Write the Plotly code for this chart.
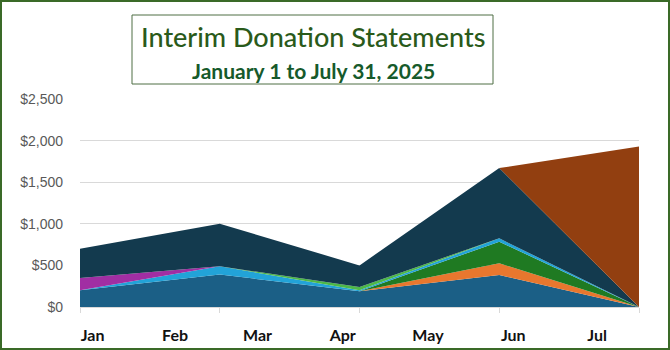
import plotly.graph_objects as go

# ---- data ----
statement_dates = ["2025-01-12", "2025-03-03", "2025-04-22", "2025-06-11", "2025-07-31"]
series_names = ["General", "Building", "Missions", "Youth", "Benevolence", "Music", "Tithes", "Special"]
general     = [200, 390, 190, 385, 0]
building    = [0, 0, 0, 140, 0]
missions    = [0, 0, 0, 260, 0]
youth       = [0, 100, 10, 40, 0]
benevolence = [150, 0, 0, 0, 0]
music       = [0, 0, 40, 0, 0]
tithes      = [350, 510, 260, 845, 0]
special     = [0, 0, 0, 0, 1930]
y_ticks = [0, 500, 1000, 1500, 2000, 2500]
y_tick_labels = ["$0", "$500", "$1,000", "$1,500", "$2,000", "$2,500"]
title_text = "Interim Donation Statements"
subtitle_text = "January 1 to July 31, 2025"

colors = ["#1b5f86", "#e8772e", "#1f7a22", "#22a3d8", "#a12ea3", "#4db848", "#133a4e", "#923f10"]
all_series = [general, building, missions, youth, benevolence, music, tithes, special]

W, H = 670, 350
ML, MR, MT, MB = 80, 31, 99, 43
PW, PH = W - ML - MR, H - MT - MB

def px_x(x):
    return (x - ML) / PW

def px_y(y):
    return 1 - (y - MT) / PH

fig = go.Figure()
for name, vals, col in zip(series_names, all_series, colors):
    fig.add_trace(go.Scatter(
        x=statement_dates, y=vals, name=name, mode="lines",
        stackgroup="one", line=dict(width=0, color=col), fillcolor=col,
        hoverinfo="x+y+name",
    ))

fig.update_layout(
    width=W, height=H,
    margin=dict(l=ML, r=MR, t=MT, b=MB, pad=0),
    paper_bgcolor="white", plot_bgcolor="white",
    showlegend=False,
    xaxis=dict(
        type="date", range=[statement_dates[0], statement_dates[-1]],
        dtick="M1", tick0="2025-01-01", tickformat="%b", ticklabelmode="period",
        ticks="", showgrid=False, zeroline=False, automargin=False,
        showline=True, linecolor="#d9d9d9", linewidth=1,
        tickfont=dict(family="Lato", size=16, color="#111111", weight="bold"),
        ticklabelstandoff=14,
        minor=dict(tickmode="array", tickvals=statement_dates, ticks="outside",
                   ticklen=5, tickcolor="#d9d9d9", tickwidth=1, showgrid=False),
    ),
    yaxis=dict(
        range=[0, 2500], tickvals=y_ticks, ticktext=y_tick_labels,
        showgrid=True, gridcolor="#d9d9d9", gridwidth=1, zeroline=False,
        ticks="", ticklabelstandoff=16, automargin=False,
        tickfont=dict(family="Liberation Sans", size=14, color="#595959"),
    ),
    shapes=[
        dict(type="rect", xref="paper", yref="paper",
             x0=px_x(1), x1=px_x(W - 1), y0=px_y(H - 1), y1=px_y(1),
             line=dict(color="#3a6a28", width=2), fillcolor="rgba(0,0,0,0)", layer="above"),
        dict(type="rect", xref="paper", yref="paper",
             x0=px_x(132), x1=px_x(493), y0=px_y(84), y1=px_y(15),
             line=dict(color="#4f6e45", width=1), fillcolor="white", layer="above"),
    ],
    annotations=[
        dict(text=title_text, xref="paper", yref="paper", x=px_x(313), y=px_y(37),
             xanchor="center", yanchor="middle", showarrow=False,
             font=dict(family="Lato", size=27, color="#2a5a1a", weight=500)),
        dict(text="<b>" + subtitle_text + "</b>", xref="paper", yref="paper",
             x=px_x(313), y=px_y(70), xanchor="center", yanchor="middle", showarrow=False,
             font=dict(family="Lato", size=21, color="#165a2b")),
    ],
)

fig.write_html("out.html")
